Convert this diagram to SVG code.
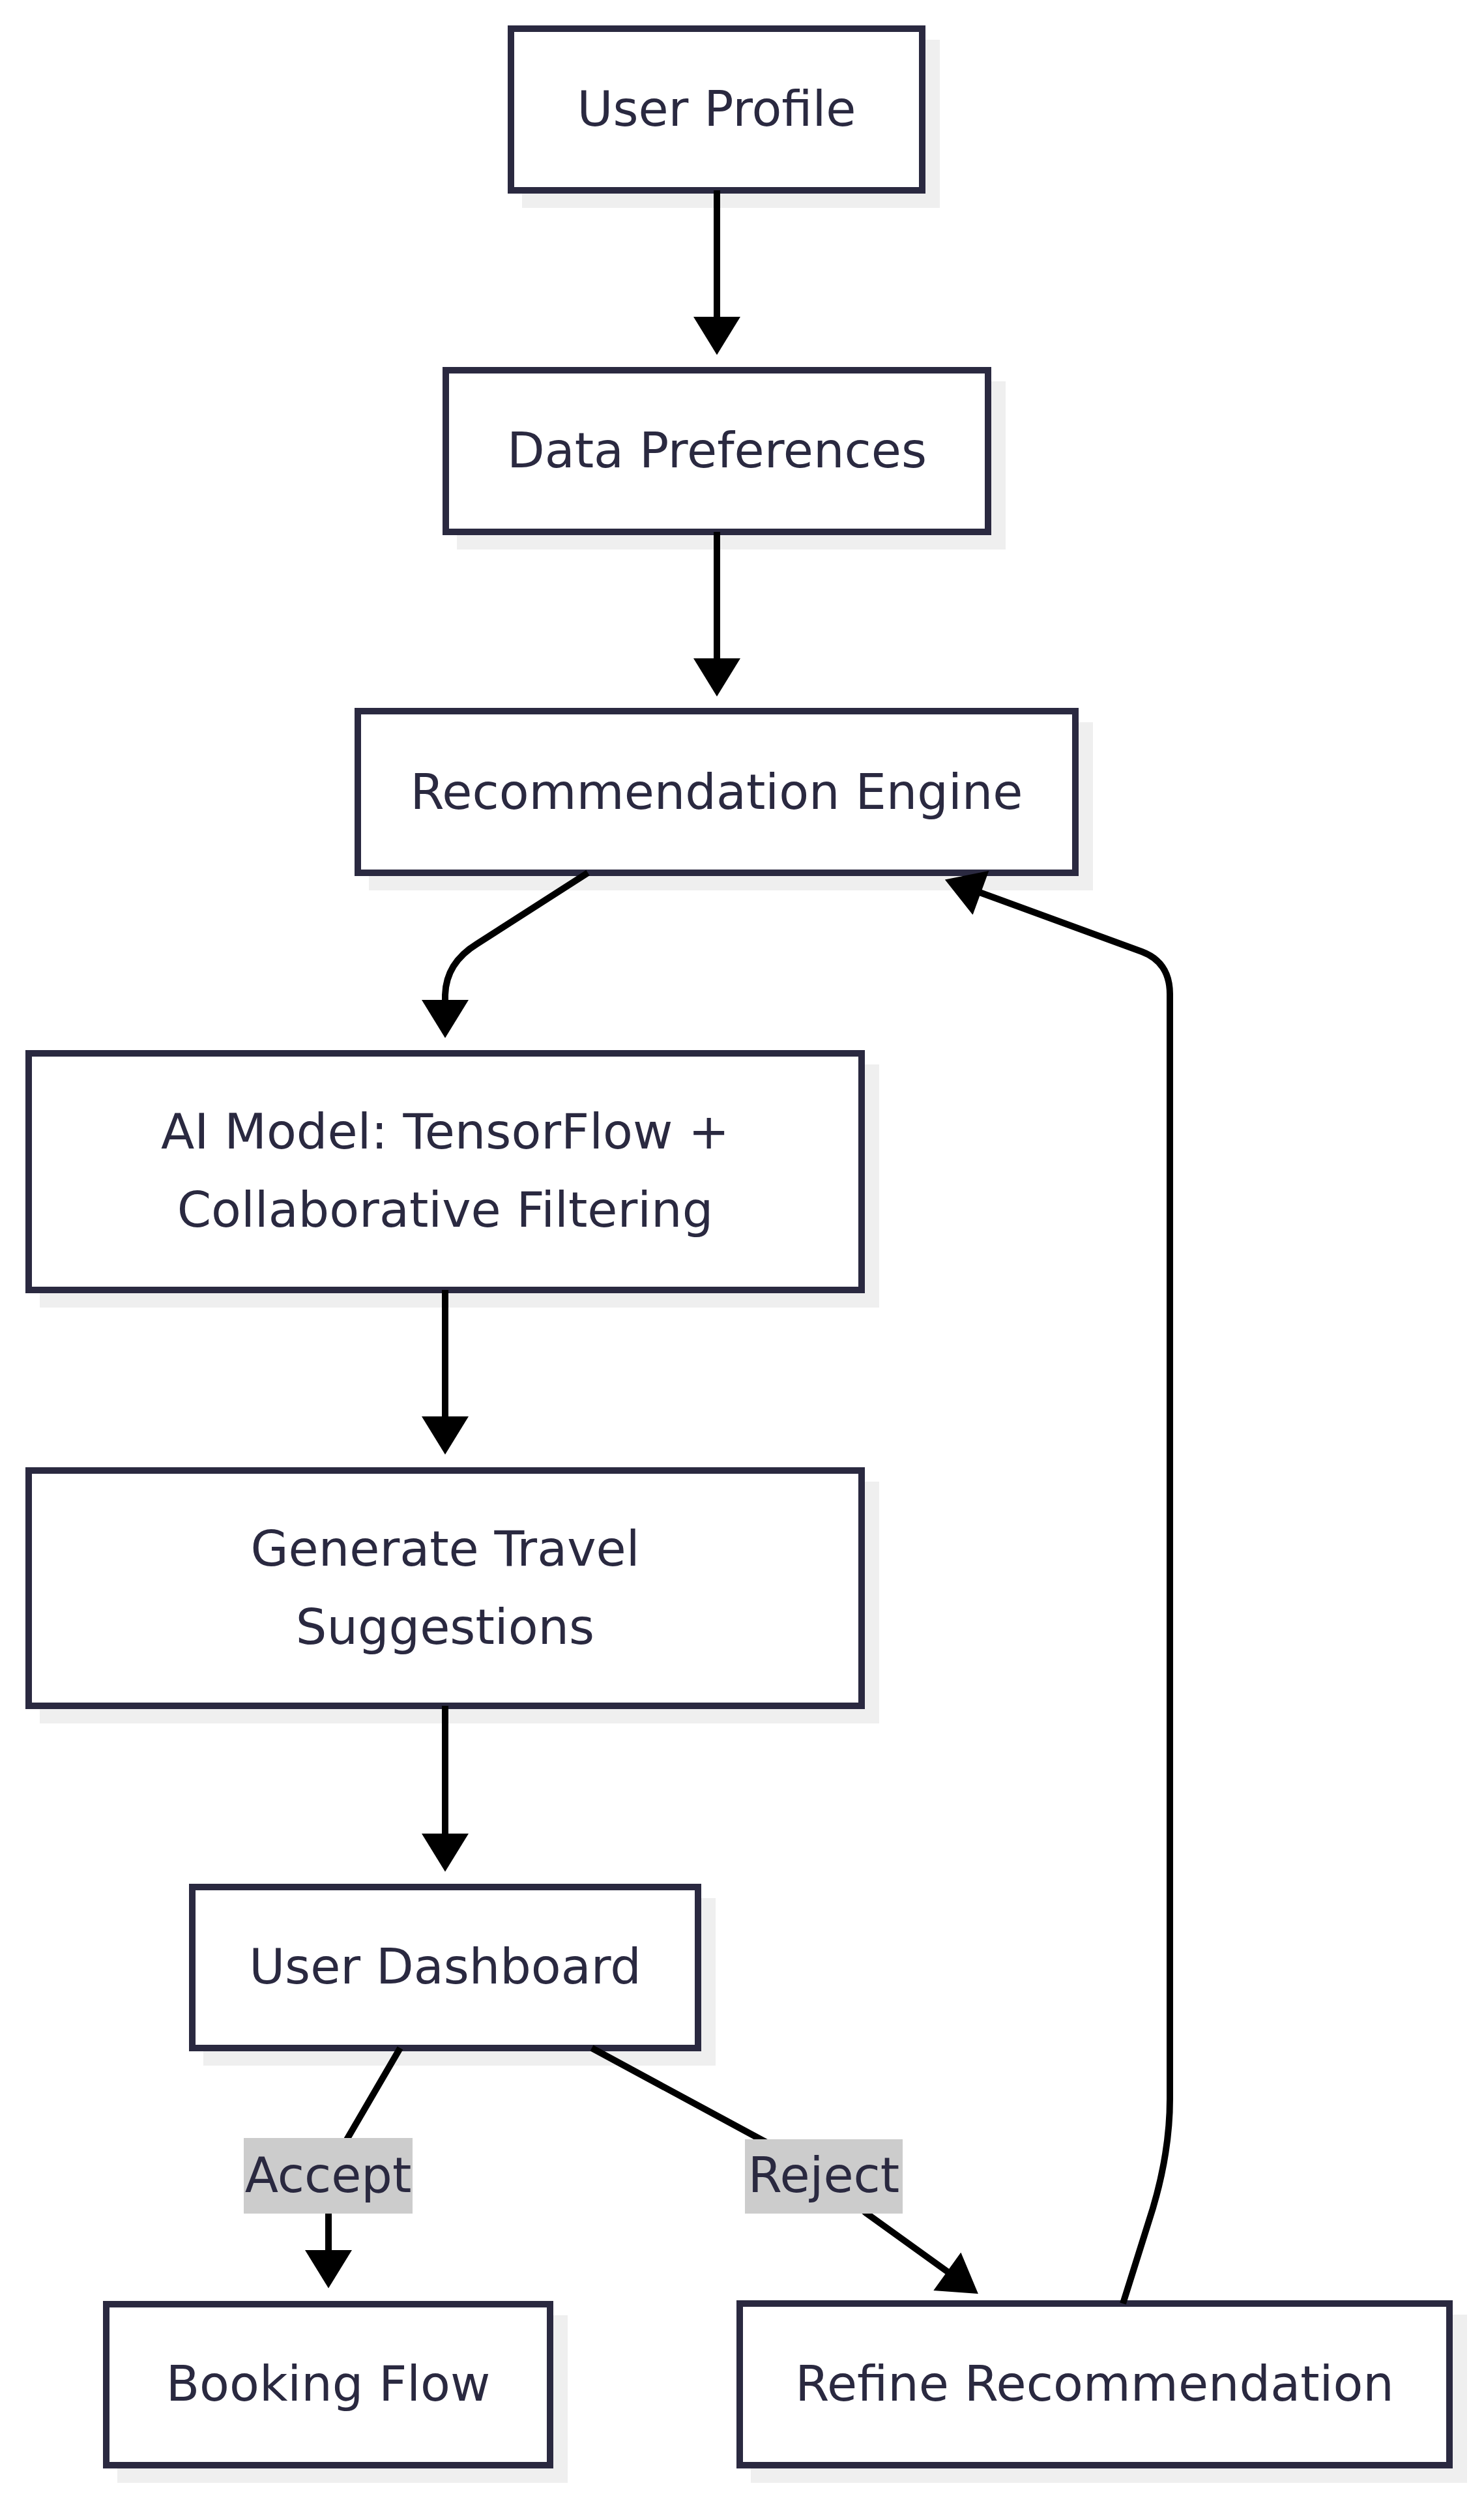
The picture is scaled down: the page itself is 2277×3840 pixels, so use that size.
<svg xmlns="http://www.w3.org/2000/svg" width="2277" height="3840" viewBox="0 0 2277 3840">
<style>
.bg{fill:#ffffff}
.shadow{fill:#efefef}
.box{fill:#ffffff;stroke:#2a2940;stroke-width:10}
.lbl{font-family:"DejaVu Sans","Liberation Sans",sans-serif;font-size:75px;fill:#2a2940;text-anchor:middle}
.edge{fill:none;stroke:#000000;stroke-width:10}
.elbg{fill:#cccccc}
</style>
<defs>
<marker id="arrow" markerUnits="userSpaceOnUse" markerWidth="60" markerHeight="72" viewBox="0 0 57 70" refX="2" refY="35" orient="auto">
<path d="M0,0 L57,35 L0,70 z" fill="#000000"/>
</marker>
</defs>
<rect class="bg" x="0" y="0" width="2277" height="3840"/>
<g id="node-user-profile">
<rect class="shadow" x="801" y="61" width="641" height="258"/>
<rect class="box" x="784" y="44" width="631" height="248"/>
<text class="lbl" x="1099.5" y="193">User Profile</text>
</g>
<g id="node-data-preferences">
<rect class="shadow" x="701" y="585" width="842" height="258"/>
<rect class="box" x="684" y="568" width="832" height="248"/>
<text class="lbl" x="1100" y="717">Data Preferences</text>
</g>
<g id="node-recommendation-engine">
<rect class="shadow" x="566" y="1108" width="1111" height="258"/>
<rect class="box" x="549" y="1091" width="1101" height="248"/>
<text class="lbl" x="1099.5" y="1241">Recommendation Engine</text>
</g>
<g id="node-ai-model">
<rect class="shadow" x="61" y="1633" width="1288" height="373"/>
<rect class="box" x="44" y="1616" width="1278" height="363"/>
<text class="lbl" x="683" y="1762">AI Model: TensorFlow +</text>
<text class="lbl" x="683" y="1882">Collaborative Filtering</text>
</g>
<g id="node-generate-suggestions">
<rect class="shadow" x="61" y="2273" width="1288" height="371"/>
<rect class="box" x="44" y="2256" width="1278" height="361"/>
<text class="lbl" x="683" y="2402">Generate Travel</text>
<text class="lbl" x="683" y="2522">Suggestions</text>
</g>
<g id="node-user-dashboard">
<rect class="shadow" x="312" y="2912" width="786" height="257"/>
<rect class="box" x="295" y="2895" width="776" height="247"/>
<text class="lbl" x="683" y="3043">User Dashboard</text>
</g>
<g id="node-booking-flow">
<rect class="shadow" x="180" y="3552" width="691" height="257"/>
<rect class="box" x="163" y="3535" width="681" height="247"/>
<text class="lbl" x="503.5" y="3683">Booking Flow</text>
</g>
<g id="node-refine-recommendation">
<rect class="shadow" x="1152" y="3551" width="1099" height="258"/>
<rect class="box" x="1135" y="3534" width="1089" height="248"/>
<text class="lbl" x="1679.5" y="3683">Refine Recommendation</text>
</g>
<g id="connectors">
<path class="edge" d="M1100,292 L1100,488" marker-end="url(#arrow)"/>
<path class="edge" d="M1100,816 L1100,1012" marker-end="url(#arrow)"/>
<path class="edge" d="M902,1339 L732,1448 Q683,1478 683,1529 L683,1536" marker-end="url(#arrow)"/>
<path class="edge" d="M683,1979 L683,2175" marker-end="url(#arrow)"/>
<path class="edge" d="M683,2617 L683,2815" marker-end="url(#arrow)"/>
<path class="edge" d="M614,3142 L530,3286 Q504,3330 504,3380 L504,3454" marker-end="url(#arrow)"/>
<path class="edge" d="M908,3142 L1180,3289 Q1264,3334 1330,3396 L1455,3486" marker-end="url(#arrow)"/>
<path class="edge" d="M1723,3534 L1762,3410 Q1795,3310 1795,3220 L1795,1525 Q1795,1476 1752,1460 L1503,1369" marker-end="url(#arrow)"/>
</g>
<g id="edge-labels">
<g id="label-accept">
<rect class="elbg" x="374" y="3280" width="259" height="116"/>
<text class="lbl" x="503.5" y="3363">Accept</text>
</g>
<g id="label-reject">
<rect class="elbg" x="1143" y="3282" width="242" height="114"/>
<text class="lbl" x="1264" y="3363">Reject</text>
</g>
</g>
</svg>
